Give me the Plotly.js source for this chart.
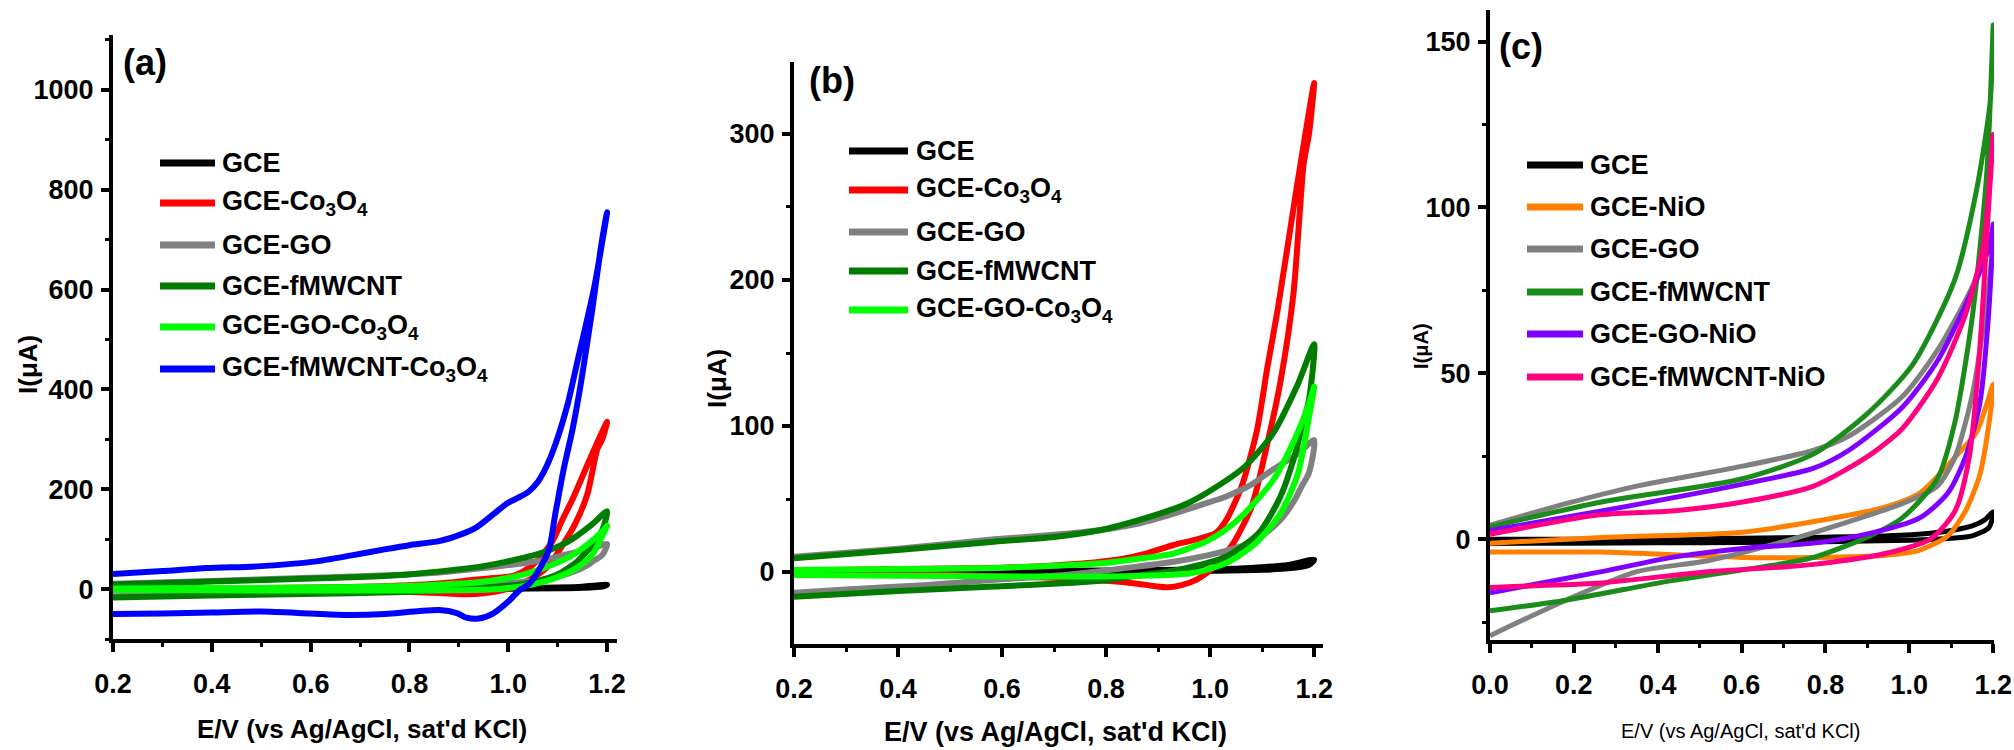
<!DOCTYPE html>
<html>
<head>
<meta charset="utf-8">
<script src="https://cdn.plot.ly/plotly-3.0.1.min.js"></script>
<style>
  html, body { margin: 0; padding: 0; background: #ffffff; }
  #chart { width: 2014px; height: 750px; }
</style>
</head>
<body>
<div id="chart"></div>
<script>
// ---------- Panels (a) and (b): CVs scanned 0.2 V -> 1.2 V -> 0.2 V ----------
// Forward (anodic) branch
const gceFwdE = [0.2, 0.4, 0.6, 0.8, 0.9, 1.0, 1.05, 1.1, 1.15, 1.2];
const gceFwdI = [0.5, 0.6, 0.8, 1.0, 1.3, 1.8, 2.3, 3.2, 4.8, 8.5];
// Reverse branch
const gceRevE = [1.19, 1.15, 1.1, 1.0, 0.8, 0.6, 0.4, 0.2];
const gceRevI = [5, 2.5, 1.5, 0.8, 0.2, 0, -0.2, -0.5];

const coFwdE = [0.2, 0.4, 0.6, 0.7, 0.76, 0.83, 0.88, 0.93, 0.97, 1.01, 1.03, 1.06, 1.09, 1.11, 1.13, 1.165, 1.19, 1.2];
const coFwdI = [1, 2, 3, 4.5, 6, 9, 13, 18.5, 22, 26.5, 35, 58, 97, 140, 180, 260, 315, 335];
const coRevE = [1.19, 1.18, 1.16, 1.135, 1.11, 1.08, 1.045, 1.01, 0.975, 0.945, 0.92, 0.89, 0.86, 0.8, 0.7, 0.5, 0.3, 0.2];
const coRevI = [300, 280, 190, 130, 88, 45, 20, 4, -5, -9, -10.5, -9.5, -8, -6, -4, -2, -1, 0];

const goFwdE = [0.2, 0.4, 0.585, 0.7, 0.79, 0.86, 0.93, 1.0, 1.03, 1.08, 1.12, 1.17, 1.2];
const goFwdI = [10.5, 16, 22.4, 25.5, 28.8, 33, 40, 48, 51.6, 60, 70, 81.3, 90.4];
const goRevE = [1.19, 1.175, 1.162, 1.135, 1.1, 1.066, 1.03, 0.997, 0.93, 0.86, 0.72, 0.6, 0.45, 0.3, 0.2];
const goRevI = [68, 58, 49, 35.6, 25, 18.5, 14.5, 11.6, 7, 3.7, -2, -5, -9, -12, -14.2];

const cntFwdE = [0.2, 0.4, 0.585, 0.7, 0.79, 0.894, 0.95, 0.997, 1.066, 1.121, 1.169, 1.2];
const cntFwdI = [9.4, 15, 20.8, 24, 28.8, 39, 46, 55, 72, 95, 129, 156];
const cntRevE = [1.19, 1.175, 1.162, 1.135, 1.093, 1.03, 0.97, 0.929, 0.85, 0.791, 0.585, 0.4, 0.2];
const cntRevI = [118, 97, 79, 51.6, 26.5, 10.3, 4, 0.9, -3, -6, -10, -13, -16.9];

const goCoFwdE = [0.2, 0.4, 0.6, 0.79, 0.86, 0.929, 0.997, 1.03, 1.066, 1.121, 1.162, 1.19, 1.2];
const goCoFwdI = [1.4, 2, 3, 6, 9, 12.6, 21.7, 29, 40, 62.8, 90.4, 115, 127];
const goCoRevE = [1.19, 1.169, 1.135, 1.087, 1.03, 0.962, 0.86, 0.6, 0.4, 0.2];
const goCoRevI = [106, 67.6, 40, 19.6, 6, -0.9, -2.7, -3, -2.5, -2];

const cntCoFwdE = [0.2, 0.3, 0.39, 0.5, 0.607, 0.68, 0.752, 0.8, 0.86, 0.9, 0.933, 0.97, 0.998, 1.02, 1.041, 1.06, 1.077, 1.095, 1.12, 1.139, 1.174, 1.2];
const cntCoFwdI = [30, 36, 42, 46, 55, 67, 80, 88, 96, 108, 122, 150, 172, 183, 195, 215, 245, 289, 370, 452, 605, 755];
const cntCoRevE = [1.195, 1.187, 1.17, 1.147, 1.13, 1.112, 1.095, 1.082, 1.06, 1.042, 1.023, 1.0, 0.969, 0.94, 0.915, 0.896, 0.86, 0.82, 0.75, 0.674, 0.6, 0.5, 0.4, 0.3, 0.2];
const cntCoRevI = [730, 682, 560, 413, 320, 240, 150, 78, 35, 10, -2, -25, -49, -59, -57, -48, -42, -44, -50, -52, -49, -45, -47, -49, -50];

// ---------- Panel (c): CVs scanned 0.0 V -> 1.2 V -> 0.0 V ----------
const cGceFwdE = [0, 0.2, 0.4, 0.6, 0.8, 0.95, 1.05, 1.1, 1.15, 1.18, 1.2];
const cGceFwdI = [0, 0, 0.1, 0.3, 0.6, 1.0, 1.8, 2.6, 4, 5.8, 8.2];
const cGceRevE = [1.19, 1.15, 1.1, 1.0, 0.8, 0.6, 0.4, 0.2, 0];
const cGceRevI = [3.5, 1.0, 0.3, -0.3, -0.8, -1, -1.1, -1.2, -1.3];

const niFwdE = [0, 0.266, 0.45, 0.603, 0.772, 0.94, 1.025, 1.109, 1.16, 1.185, 1.2];
const niFwdI = [-1.2, 0.5, 1.2, 2.1, 5.3, 9.6, 13.9, 24.7, 32.2, 40.8, 46.7];
const niRevE = [1.193, 1.168, 1.134, 1.092, 1.025, 0.94, 0.772, 0.6, 0.4, 0.266, 0];
const niRevI = [37.6, 19.3, 8.5, 1, -3.3, -4.9, -5.5, -5.5, -4.5, -3.9, -3.9];

const cGoFwdE = [0, 0.181, 0.35, 0.603, 0.772, 0.856, 0.983, 1.067, 1.151, 1.2];
const cGoFwdI = [4.2, 10.7, 16, 22, 26.8, 31.1, 42.9, 56.9, 76.3, 93];
const cGoRevE = [1.185, 1.151, 1.109, 1.067, 0.983, 0.856, 0.687, 0.519, 0.35, 0.181, 0];
const cGoRevI = [72, 44, 24.7, 16, 10.7, 5.3, -1.2, -6.5, -9.8, -18.4, -29.1];

const cCntFwdE = [0, 0.266, 0.603, 0.772, 0.898, 1.008, 1.109, 1.16, 1.193, 1.2];
const cCntFwdI = [3.7, 11.2, 18.2, 25.7, 37.6, 52.6, 78.4, 105, 132, 155];
const cCntRevE = [1.185, 1.151, 1.109, 1.067, 0.983, 0.898, 0.772, 0.687, 0.434, 0.181, 0];
const cCntRevI = [110.7, 67.7, 35.4, 18.2, 6.4, 0.5, -5.5, -7.6, -12.5, -18.4, -21.6];

const goNiFwdE = [0, 0.266, 0.603, 0.772, 0.856, 0.983, 1.067, 1.143, 1.193, 1.2];
const goNiFwdI = [2.6, 8.5, 16.6, 21.4, 26.8, 39.7, 53.7, 73, 89, 95];
const goNiRevE = [1.189, 1.168, 1.134, 1.092, 1.025, 0.898, 0.772, 0.603, 0.434, 0.266, 0];
const goNiRevI = [67.7, 40.8, 24.7, 13.9, 6.4, 1.5, -1.2, -2.8, -5.5, -9.8, -16.2];

const cntNiFwdE = [0, 0.266, 0.434, 0.603, 0.772, 0.898, 0.983, 1.067, 1.134, 1.177, 1.2];
const cntNiFwdI = [1.5, 7.4, 8.5, 11.2, 16, 24.7, 33.3, 48.3, 67.7, 89, 122];
const cntNiRevE = [1.189, 1.168, 1.143, 1.109, 1.05, 0.94, 0.772, 0.687, 0.519, 0.266, 0.097, 0];
const cntNiRevI = [100, 57, 24.7, 8.5, 0, -4.4, -7.6, -8.5, -9.8, -13.2, -14.1, -14.6];

// ---------- Labels and colours ----------
const namesAB = ['GCE', 'GCE-Co<sub>3</sub>O<sub>4</sub>', 'GCE-GO', 'GCE-fMWCNT',
                 'GCE-GO-Co<sub>3</sub>O<sub>4</sub>', 'GCE-fMWCNT-Co<sub>3</sub>O<sub>4</sub>'];
const colorsAB = ['#000000', '#ff0000', '#808080', '#007d00', '#00ff00', '#0000ff'];
const namesC = ['GCE', 'GCE-NiO', 'GCE-GO', 'GCE-fMWCNT', 'GCE-GO-NiO', 'GCE-fMWCNT-NiO'];
const colorsC = ['#000000', '#ff8000', '#808080', '#1a8c1a', '#8000ff', '#ff0080'];

const xTitle = "E/V (vs Ag/AgCl, sat'd KCl)";
const yTitle = 'I(\u03bcA)';

const FONT = '"Liberation Sans Narrow", "Arial Narrow", "Liberation Sans", Arial, sans-serif';

// ---------- Build traces ----------
function loop(fE, fI, rE, rI) {
  return { x: fE.concat(rE), y: fI.concat(rI) };
}

const loopsAB = [
  loop(gceFwdE, gceFwdI, gceRevE, gceRevI),
  loop(coFwdE, coFwdI, coRevE, coRevI),
  loop(goFwdE, goFwdI, goRevE, goRevI),
  loop(cntFwdE, cntFwdI, cntRevE, cntRevI),
  loop(goCoFwdE, goCoFwdI, goCoRevE, goCoRevI),
  loop(cntCoFwdE, cntCoFwdI, cntCoRevE, cntCoRevI)
];
const loopsC = [
  loop(cGceFwdE, cGceFwdI, cGceRevE, cGceRevI),
  loop(niFwdE, niFwdI, niRevE, niRevI),
  loop(cGoFwdE, cGoFwdI, cGoRevE, cGoRevI),
  loop(cCntFwdE, cCntFwdI, cCntRevE, cCntRevI),
  loop(goNiFwdE, goNiFwdI, goNiRevE, goNiRevI),
  loop(cntNiFwdE, cntNiFwdI, cntNiRevE, cntNiRevI)
];

const traces = [];
function addTrace(l, name, color, xa, ya, width) {
  traces.push({
    type: 'scatter', mode: 'lines', name: name,
    x: l.x, y: l.y, xaxis: xa, yaxis: ya,
    line: { color: color, width: width, shape: 'spline', smoothing: 0.7 },
    hoverinfo: 'x+y+name'
  });
}
// panel (a): all six
loopsAB.forEach((l, i) => addTrace(l, namesAB[i], colorsAB[i], 'x', 'y', 6));
// panel (b): first five
loopsAB.slice(0, 5).forEach((l, i) => addTrace(l, namesAB[i], colorsAB[i], 'x2', 'y2', 6));
// panel (c)
loopsC.forEach((l, i) => addTrace(l, namesC[i], colorsC[i], 'x3', 'y3', 5));

// ---------- Layout helpers ----------
const W = 2014, H = 750;
const px = v => v / W;
const py = v => 1 - v / H;

function xAxis(d0, d1, range, anchor) {
  return {
    domain: [px(d0), px(d1)], range: range, anchor: anchor,
    showline: true, linewidth: 4, linecolor: '#000',
    showgrid: false, zeroline: false,
    ticks: 'outside', ticklen: 9, tickwidth: 4, tickcolor: '#000',
    tickmode: 'linear', tick0: 0, dtick: 0.2, tickformat: '.1f',
    minor: { ticks: 'outside', ticklen: 4, tickwidth: 3, tickcolor: '#000', dtick: 0.1, showgrid: false },
    tickfont: { family: FONT, size: 27, color: '#000', weight: 'bold' },
    ticklabelstandoff: 9,
    fixedrange: true
  };
}
function yAxis(d0, d1, range, anchor, dtick) {
  return {
    domain: [py(d1), py(d0)], range: range, anchor: anchor,
    showline: true, linewidth: 4, linecolor: '#000',
    showgrid: false, zeroline: false,
    ticks: 'outside', ticklen: 8, tickwidth: 4, tickcolor: '#000',
    tickmode: 'linear', tick0: 0, dtick: dtick,
    minor: { ticks: 'outside', ticklen: 4, tickwidth: 3, tickcolor: '#000', dtick: dtick / 2, showgrid: false },
    tickfont: { family: FONT, size: 27, color: '#000', weight: 'bold' },
    ticklabelstandoff: 2,
    fixedrange: true
  };
}

const annotations = [];
const shapes = [];
function text(x, y, t, size, opts) {
  annotations.push(Object.assign({
    xref: 'paper', yref: 'paper', x: px(x), y: py(y), text: t, showarrow: false,
    xanchor: 'center', yanchor: 'middle',
    font: { family: FONT, size: size, color: '#000', weight: 'bold' }
  }, opts || {}));
}
function legend(names, colors, x0, x1, tx, rows, size) {
  names.forEach((n, i) => {
    shapes.push({ type: 'line', xref: 'paper', yref: 'paper',
      x0: px(x0), x1: px(x1), y0: py(rows[i]), y1: py(rows[i]),
      line: { color: colors[i], width: 7 } });
    text(tx, rows[i], n, size, { xanchor: 'left' });
  });
}

// panel letters
text(145, 62, '(a)', 36);
text(832, 80, '(b)', 36);
text(1521, 46, '(c)', 36);

// axis titles
text(362, 729, xTitle, 26);
text(1055, 732, xTitle, 27);
text(1740, 731, xTitle, 20, { font: { family: FONT, size: 20, color: '#000' } });
text(28, 365, yTitle, 26, { textangle: -90 });
text(717, 379, yTitle, 26, { textangle: -90 });
text(1421, 346, yTitle, 20, { textangle: -90 });

// legends
legend(namesAB, colorsAB, 160, 215, 220, [163, 203, 245, 286, 327, 369], 27);
legend(namesAB.slice(0, 5), colorsAB.slice(0, 5), 849, 908, 914, [151, 190, 232, 271, 310], 27);
legend(namesC, colorsC, 1527, 1583, 1588, [165, 207, 249, 292, 334, 377], 27);

const layout = {
  width: W, height: H,
  margin: { l: 0, r: 0, t: 0, b: 0 },
  paper_bgcolor: '#fff', plot_bgcolor: '#fff',
  showlegend: false,
  xaxis:  xAxis(113, 617, [0.2, 1.22], 'y'),
  yaxis:  yAxis(35, 639, [-100, 1110], 'x', 200),
  xaxis2: xAxis(794, 1323, [0.2, 1.217], 'y2'),
  yaxis2: yAxis(62, 644, [-49.3, 349.3], 'x2', 100),
  xaxis3: xAxis(1490, 1994, [0, 1.202], 'y3'),
  yaxis3: yAxis(10, 640, [-30.4, 159.5], 'x3', 50),
  annotations: annotations,
  shapes: shapes
};

Plotly.newPlot('chart', traces, layout, { displayModeBar: false, staticPlot: true });
</script>
</body>
</html>
